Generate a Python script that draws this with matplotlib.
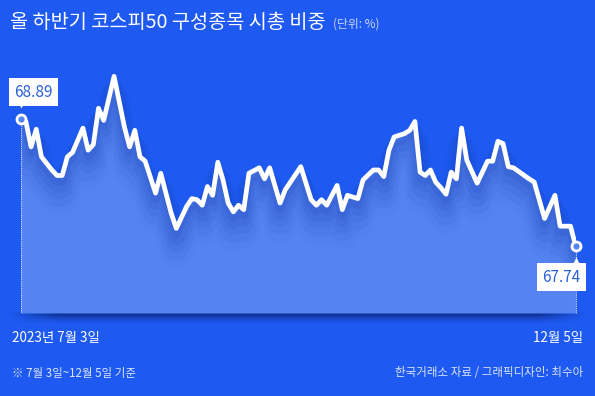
import numpy as np
import matplotlib
matplotlib.use("Agg")
import matplotlib.pyplot as plt
import matplotlib.transforms as mtransforms

plt.rcParams['font.family'] = ['Noto Sans CJK KR', 'DejaVu Sans']

# trading-day index since 2023-07-03 and KOSPI50 market-cap share (%)
day = [0, 1, 2, 3, 4, 6, 7, 8, 9, 10, 12, 13, 14, 15, 16, 18, 20, 21, 22, 23,
       24, 26, 27, 28, 29, 30, 32, 33, 34, 35, 36, 37, 38, 39, 40, 41, 42, 43,
       44, 46, 47, 48, 50, 51, 54, 56, 57, 58, 59, 61, 62, 63, 65, 66, 68, 69,
       70, 71, 72, 74, 75, 76, 77, 78, 79, 80, 81, 82, 83, 84, 85, 86, 88, 90,
       91, 92, 93, 94, 95, 98, 99, 101, 103, 104, 106, 107]
share = [68.89, 68.87, 68.64, 68.80, 68.55, 68.43, 68.38, 68.38, 68.55, 68.59,
         68.81, 68.61, 68.66, 68.99, 68.88, 69.28, 68.82, 68.64, 68.79, 68.55,
         68.51, 68.22, 68.40, 68.22, 68.04, 67.90, 68.10, 68.17, 68.16, 68.11,
         68.28, 68.20, 68.50, 68.34, 68.13, 68.05, 68.11, 68.07, 68.40, 68.45,
         68.35, 68.45, 68.13, 68.25, 68.46, 68.16, 68.11, 68.16, 68.11, 68.29,
         68.07, 68.20, 68.17, 68.34, 68.43, 68.43, 68.37, 68.61, 68.73, 68.76,
         68.79, 68.87, 68.41, 68.38, 68.43, 68.32, 68.27, 68.21, 68.41, 68.35,
         68.81, 68.52, 68.31, 68.51, 68.51, 68.69, 68.67, 68.46, 68.45, 68.35,
         68.32, 67.99, 68.20, 67.92, 67.92, 67.74]

title = "올 하반기 코스피50 구성종목 시총 비중"
unit = "(단위: %)"
start_label = "2023년 7월 3일"
end_label = "12월 5일"
note_left = "※ 7월 3일~12월 5일 기준"
note_right = "한국거래소 자료 / 그래픽디자인: 최수아"

bg = '#1e5af1'
fill_c = '#5584f2'
text_blue = '#2a60dc'

W, H = 595, 396
fig = plt.figure(figsize=(W / 100, H / 100), dpi=100, facecolor=bg)

# floor shadow under the area
sh = fig.add_axes([8 / W, 1 - 324 / H, 580 / W, 12 / H])
sh.axis('off')
ny, nx = 24, 200
rgba = np.zeros((ny, nx, 4))
rgba[..., 0] = 0.03
rgba[..., 1] = 0.12
rgba[..., 2] = 0.40
vy = np.linspace(0.9, 0.0, ny) ** 1.3
vx = np.clip(np.minimum(np.linspace(0, 1, nx), np.linspace(1, 0, nx)) * 12, 0, 1)
rgba[..., 3] = vy[:, None] * vx[None, :]
sh.imshow(rgba, aspect='auto', extent=[0, 1, 0, 1])

ax = fig.add_axes([20.7 / W, 1 - 313 / H, 555 / W, 253 / H])
ax.set_facecolor('none')
ax.axis('off')
ax.set_xlim(0, 107)
ax.set_ylim(67.132, 69.428)

ax.fill_between(day, share, 67.132, color=fill_c, lw=0, zorder=1)

# soft shadow below the line
for off, lw, a in [(6, 6, 0.16), (10, 10, 0.12), (14, 14, 0.10),
                   (19, 18, 0.08), (24, 22, 0.05)]:
    tr = mtransforms.offset_copy(ax.transData, fig=fig, y=-off, units='dots')
    ax.plot(day, share, color='#1c44bb', lw=lw, alpha=a, transform=tr,
            solid_joinstyle='round', zorder=2)

ax.plot(day, share, color='white', lw=3.4, solid_joinstyle='round',
        solid_capstyle='round', zorder=3)

# dotted guides
ax.plot([day[0], day[0]], [67.132, share[0]], color='white', lw=0.8,
        ls=(0, (1, 1)), alpha=0.8, zorder=2)
ax.plot([day[-1], day[-1]], [67.132, share[-1]], color='white', lw=0.8,
        ls=(0, (1, 1)), alpha=0.8, zorder=2, clip_on=False)

ax.plot([day[0], day[-1]], [share[0], share[-1]], 'o', ms=6.5, mfc=fill_c,
        mec='white', mew=2, zorder=5, clip_on=False)

# value callouts
box = dict(boxstyle='square,pad=0.35', fc='white', ec='none')
ax.annotate(f"{share[0]:.2f}", (day[0], share[0]), xytext=(12.5, 27),
            textcoords='offset pixels', ha='center', va='center',
            fontsize=11, color=text_blue, fontweight='medium', bbox=box, zorder=6,
            annotation_clip=False)
ax.plot([day[0]], [share[0]], marker='v', ms=6, color='white', mec='none',
        transform=mtransforms.offset_copy(ax.transData, fig=fig, y=15, units='dots'),
        zorder=6, clip_on=False)

ax.annotate(f"{share[-1]:.2f}", (day[-1], share[-1]), xytext=(-14.5, -31),
            textcoords='offset pixels', ha='center', va='center',
            fontsize=11, color=text_blue, fontweight='medium', bbox=box, zorder=6,
            annotation_clip=False)
ax.plot([day[-1]], [share[-1]], marker='^', ms=6, color='white', mec='none',
        transform=mtransforms.offset_copy(ax.transData, fig=fig, y=-15, units='dots'),
        zorder=6, clip_on=False)

# texts
fig.text(10 / W, 1 - 22 / H, title, color='white', fontsize=14.2,
         fontweight='medium', ha='left', va='center')
fig.text(333 / W, 1 - 24 / H, unit, color='#c8d6ff', fontsize=8.5,
         ha='left', va='center')
fig.text(12 / W, 1 - 338 / H, start_label, color='white', fontsize=9.7,
         ha='left', va='center')
fig.text(583 / W, 1 - 338 / H, end_label, color='white', fontsize=9.7,
         ha='right', va='center')
fig.text(12 / W, 1 - 373 / H, note_left, color='#dbe4ff', fontsize=8.3,
         ha='left', va='center')
fig.text(583 / W, 1 - 373 / H, note_right, color='#dbe4ff', fontsize=8.3,
         ha='right', va='center')

fig.savefig('out.png', dpi=100, facecolor=bg)
